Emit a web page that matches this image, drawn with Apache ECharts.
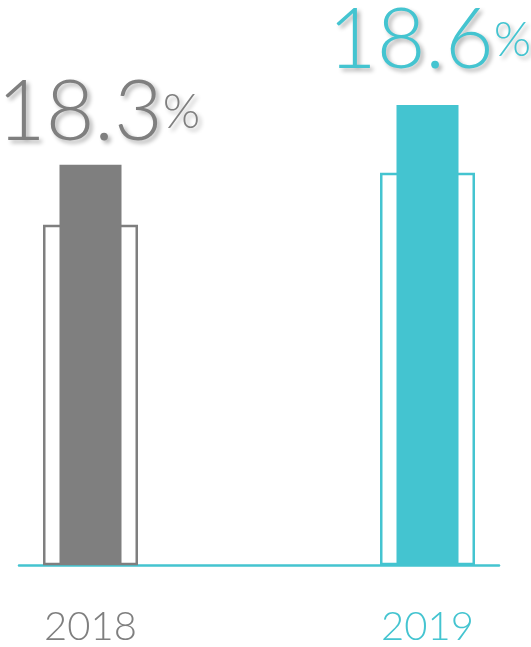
<!DOCTYPE html>
<html>
<head>
<meta charset="utf-8">
<style>
  html, body { margin: 0; padding: 0; background: #fff; }
  #chart { width: 531px; height: 647px; }
</style>
<script src="https://cdn.jsdelivr.net/npm/echarts@6/dist/echarts.min.js"></script>
</head>
<body>
<div id="chart"></div>
<script>
// Years on the category axis
const years = ['2018', '2019'];
// Main values (filled bars, labelled in %)
const shareValues = [18.3, 18.6];
// Reference values drawn as outlined bars
const outlineValues = [18.0, 18.26];
// Colour for each year
const yearColors = ['#7f7f7f', '#44c4d0'];

const axisColor = '#44c4d0';
const yMin = 16.3, yMax = 18.8;
const labelFont = 'Lato, sans-serif';
const labelDistances = [10, 22];
const labelOffsets = [[8, 0], [2, 0]];

const chart = echarts.init(document.getElementById('chart'));

function valueAxis(gridIndex) {
  return { type: 'value', gridIndex, min: yMin, max: yMax, show: false };
}

const shadow = {
  textShadowColor: 'rgba(0,0,0,0.3)', textShadowBlur: 4,
  textShadowOffsetX: 3, textShadowOffsetY: 3
};

const option = {
  animation: false,
  grid: [
    { left: 90.5, right: 103.5, top: 65, bottom: 82 },  // bars + year labels
    { left: 19, right: 32, top: 65, bottom: 82 }        // baseline
  ],
  xAxis: [
    {
      // category axis for the outlined bars, carries the year labels
      type: 'category', gridIndex: 0, data: years, boundaryGap: false,
      axisLine: { show: false }, axisTick: { show: false },
      axisLabel: {
        margin: 43, fontSize: 40, fontFamily: labelFont, fontWeight: 300,
        color: (v) => yearColors[years.indexOf(v)]
      }
    },
    {
      // same categories for the filled bars, so both bars share a centre
      type: 'category', gridIndex: 0, data: years, boundaryGap: false,
      axisLine: { show: false }, axisTick: { show: false }, axisLabel: { show: false }
    },
    {
      type: 'category', gridIndex: 1, data: years,
      axisLine: { show: true, lineStyle: { color: axisColor, width: 2.5 } },
      axisTick: { show: false }, axisLabel: { show: false }
    }
  ],
  yAxis: [valueAxis(0), valueAxis(1)],
  series: [
    {
      type: 'bar', xAxisIndex: 0, yAxisIndex: 0, barWidth: 95,
      data: outlineValues.map((v, i) => ({
        value: v,
        itemStyle: { color: '#ffffff', borderColor: yearColors[i], borderWidth: 2.5 }
      }))
    },
    {
      type: 'bar', xAxisIndex: 1, yAxisIndex: 0, barWidth: 62,
      data: shareValues.map((v, i) => ({
        value: v,
        itemStyle: { color: yearColors[i] },
        label: {
          distance: labelDistances[i],
          offset: labelOffsets[i],
          rich: {
            n: Object.assign({ fontSize: 84, color: yearColors[i], fontFamily: labelFont, fontWeight: 300 }, shadow),
            p: Object.assign({ fontSize: 48, color: yearColors[i], fontFamily: labelFont, fontWeight: 300 }, shadow)
          }
        }
      })),
      label: {
        show: true, position: 'top',
        formatter: p => '{n|' + p.value.toFixed(1) + '}{p|%}'
      }
    }
  ]
};

chart.setOption(option);
</script>
</body>
</html>
